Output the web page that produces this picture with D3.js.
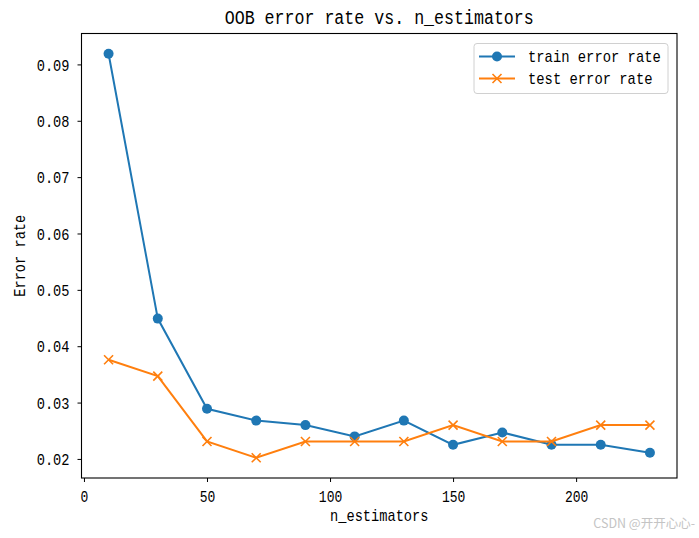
<!DOCTYPE html>
<html>
<head>
<meta charset="utf-8">
<script src="https://cdn.jsdelivr.net/npm/d3@7/dist/d3.min.js"></script>
<style>
  html, body { margin: 0; padding: 0; background: #fff; }
  svg { display: block; }
</style>
</head>
<body>
<svg id="chart" width="699" height="538"></svg>
<script>
// ---- data ----
const nEstimators = [10, 30, 50, 70, 90, 110, 130, 150, 170, 190, 210, 230];
const trainError = [0.0919, 0.0449, 0.0289, 0.0268, 0.0260, 0.0240, 0.0268, 0.0225, 0.0247, 0.0225, 0.0225, 0.0211];
const testError  = [0.0376, 0.0347, 0.0231, 0.0202, 0.0231, 0.0231, 0.0231, 0.0260, 0.0231, 0.0231, 0.0260, 0.0260];
const xTicks = [0, 50, 100, 150, 200];
const yTicks = [0.02, 0.03, 0.04, 0.05, 0.06, 0.07, 0.08, 0.09];
const seriesNames = ["train error rate", "test error rate"];
const titleText = "OOB error rate vs. n_estimators";
const xLabelText = "n_estimators";
const yLabelText = "Error rate";
const watermarkText = "CSDN @开开心心-";

// ---- layout ----
const svg = d3.select("#chart");
const L = 81.5, R = 677, T = 33.5, B = 478;
const FONT = "'Liberation Mono', 'DejaVu Sans Mono', monospace";
const blue = "#1f77b4", orange = "#ff7f0e";

// matplotlib-like 5% margins
const xMin = d3.min(nEstimators), xMax = d3.max(nEstimators);
const allY = trainError.concat(testError);
const yMin = d3.min(allY), yMax = d3.max(allY);
const xm = (xMax - xMin) * 0.05, ym = (yMax - yMin) * 0.05;
const x = d3.scaleLinear().domain([xMin - xm, xMax + xm]).range([L, R]);
const y = d3.scaleLinear().domain([yMin - ym, yMax + ym]).range([B, T]);

function monoText(sel, adv) {
  sel.each(function() {
    const t = d3.select(this);
    const n = t.text().length;
    t.attr("textLength", n * adv).attr("lengthAdjust", "spacingAndGlyphs");
  });
}

// ---- axes ----
const xAxis = svg.append("g").attr("transform", `translate(0,${B})`)
  .call(d3.axisBottom(x).tickValues(xTicks).tickSize(4).tickSizeOuter(0).tickFormat(d3.format("d")));
xAxis.select(".domain").remove();
xAxis.selectAll(".tick line").attr("stroke", "#000").attr("stroke-width", 1);
xAxis.selectAll(".tick text")
  .attr("y", 24).attr("dy", null)
  .attr("font-family", FONT).attr("font-size", 17).attr("fill", "#000")
  .call(monoText, 7.8);

const yAxis = svg.append("g").attr("transform", `translate(${L},0)`)
  .call(d3.axisLeft(y).tickValues(yTicks).tickSize(4).tickSizeOuter(0).tickFormat(d3.format(".2f")));
yAxis.select(".domain").remove();
yAxis.selectAll(".tick line").attr("stroke", "#000").attr("stroke-width", 1);
yAxis.selectAll(".tick text")
  .attr("x", -12).attr("dy", "0.34em")
  .attr("font-family", FONT).attr("font-size", 17).attr("fill", "#000")
  .call(monoText, 8.2);

// frame
svg.append("rect").attr("x", L).attr("y", T).attr("width", R - L).attr("height", B - T)
  .attr("fill", "none").attr("stroke", "#000").attr("stroke-width", 1.1);

// ---- lines ----
const line = d3.line().x((d, i) => x(nEstimators[i])).y(d => y(d));
const plot = svg.append("g");
plot.append("path").datum(trainError).attr("d", line)
  .attr("fill", "none").attr("stroke", blue).attr("stroke-width", 2);
plot.selectAll("circle.train").data(trainError).join("circle")
  .attr("class", "train")
  .attr("cx", (d, i) => x(nEstimators[i])).attr("cy", d => y(d))
  .attr("r", 5).attr("fill", blue);

plot.append("path").datum(testError).attr("d", line)
  .attr("fill", "none").attr("stroke", orange).attr("stroke-width", 2);
const cross = "M-4.5,-4.5L4.5,4.5M-4.5,4.5L4.5,-4.5";
plot.selectAll("path.test").data(testError).join("path")
  .attr("class", "test")
  .attr("transform", (d, i) => `translate(${x(nEstimators[i])},${y(d)})`)
  .attr("d", cross).attr("stroke", orange).attr("stroke-width", 1.6).attr("fill", "none");

// ---- legend ----
const lg = svg.append("g");
lg.append("rect").attr("x", 474).attr("y", 43.5).attr("width", 194).attr("height", 50)
  .attr("rx", 3).attr("fill", "#fff").attr("fill-opacity", 0.8)
  .attr("stroke", "#d0d0d0").attr("stroke-width", 1);
const rows = [56.5, 78.5];
seriesNames.forEach((name, i) => {
  const cy = rows[i];
  const c = i === 0 ? blue : orange;
  lg.append("line").attr("x1", 479).attr("x2", 515).attr("y1", cy).attr("y2", cy)
    .attr("stroke", c).attr("stroke-width", 2);
  if (i === 0) {
    lg.append("circle").attr("cx", 497).attr("cy", cy).attr("r", 5).attr("fill", c);
  } else {
    lg.append("path").attr("transform", `translate(497,${cy})`).attr("d", cross)
      .attr("stroke", c).attr("stroke-width", 1.6).attr("fill", "none");
  }
  lg.append("text").attr("x", 528).attr("y", cy).attr("dy", "0.35em")
    .attr("font-family", FONT).attr("font-size", 17).attr("fill", "#000")
    .text(name).call(monoText, 8.3);
});

// ---- titles ----
svg.append("text").attr("x", (L + R) / 2).attr("y", 24).attr("text-anchor", "middle")
  .attr("font-family", FONT).attr("font-size", 20).attr("fill", "#000")
  .text(titleText).call(monoText, 9.97);

svg.append("text").attr("x", (L + R) / 2).attr("y", 521).attr("text-anchor", "middle")
  .attr("font-family", FONT).attr("font-size", 17).attr("fill", "#000")
  .text(xLabelText).call(monoText, 8.2);

svg.append("text").attr("transform", `translate(25,${(T + B) / 2}) rotate(-90)`)
  .attr("text-anchor", "middle")
  .attr("font-family", FONT).attr("font-size", 17).attr("fill", "#000")
  .text(yLabelText).call(monoText, 8.2);

// watermark
svg.append("text").attr("x", 695).attr("y", 528).attr("text-anchor", "end")
  .attr("font-family", "'Noto Sans CJK SC', sans-serif").attr("font-size", 12.5)
  .attr("fill", "#c4c4c4").text(watermarkText);
</script>
</body>
</html>
